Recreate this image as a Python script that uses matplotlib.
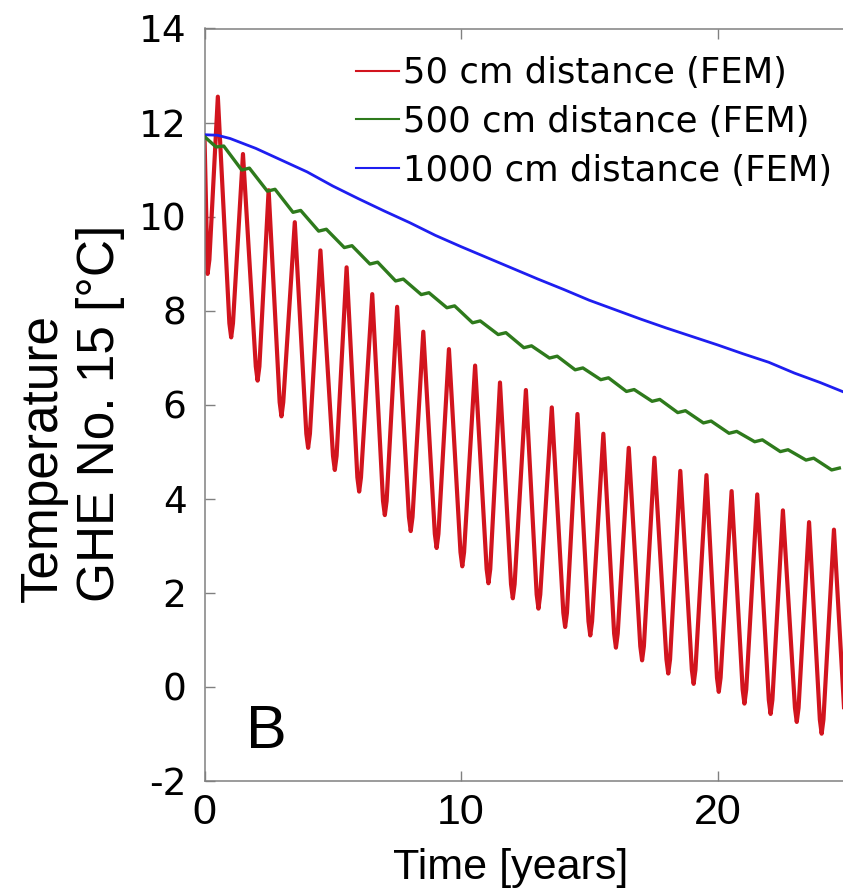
import matplotlib
matplotlib.use("Agg")
import matplotlib.pyplot as plt
from matplotlib.lines import Line2D
import numpy as np

plt.rcParams["axes.unicode_minus"] = False

# ---- data ----
red_start = (0.0, 11.70)
red_trough_t = [0.12, 1.04, 2.07, 3.00, 4.04, 5.08, 6.03, 7.03, 8.04, 9.05, 10.05, 11.07, 12.02,
                13.02, 14.06, 15.04, 16.04, 17.06, 18.08, 19.07, 20.05, 21.05, 22.07, 23.09, 24.06, 25.05]
red_trough_v = [8.78, 7.43, 6.51, 5.75, 5.08, 4.61, 4.15, 3.65, 3.31, 2.95, 2.56, 2.20, 1.88,
                1.66, 1.27, 1.09, 0.83, 0.56, 0.28, 0.06, -0.11, -0.36, -0.58, -0.75, -1.00, -1.20]
red_peak_t = [0.52, 1.50, 2.50, 3.52, 4.52, 5.54, 6.54, 7.51, 8.53, 9.53, 10.55, 11.52, 12.53,
              13.54, 14.54, 15.55, 16.54, 17.54, 18.55, 19.57, 20.55, 21.55, 22.55, 23.57, 24.54]
red_peak_v = [12.55, 11.33, 10.56, 9.88, 9.28, 8.92, 8.35, 8.08, 7.55, 7.18, 6.83, 6.47, 6.31,
              5.94, 5.80, 5.38, 5.08, 4.87, 4.59, 4.50, 4.16, 4.09, 3.75, 3.50, 3.34]
# rounded bottom of each trough (half-width in years, rise in degC)
trough_round_dt = 0.07
trough_round_dv = 0.30

green_start = (0.0, 11.70)
green_min_t = [0.45, 1.45, 2.45, 3.45, 4.45, 5.45, 6.45, 7.45, 8.45, 9.45, 10.45, 11.45, 12.45,
               13.45, 14.45, 15.45, 16.45, 17.45, 18.45, 19.45, 20.45, 21.45, 22.45, 23.45, 24.45]
green_min_v = [11.48, 10.99, 10.54, 10.09, 9.69, 9.34, 8.99, 8.63, 8.34, 8.06, 7.74, 7.49, 7.21,
               6.99, 6.74, 6.53, 6.28, 6.07, 5.83, 5.61, 5.39, 5.21, 5.00, 4.82, 4.61]
green_max_t = [0.75, 1.75, 2.75, 3.75, 4.75, 5.75, 6.75, 7.75, 8.75, 9.75, 10.75, 11.75, 12.75,
               13.75, 14.75, 15.75, 16.75, 17.75, 18.75, 19.75, 20.75, 21.75, 22.75, 23.75, 24.75]
green_max_v = [11.50, 11.03, 10.58, 10.13, 9.73, 9.38, 9.03, 8.67, 8.38, 8.10, 7.78, 7.53, 7.25,
               7.03, 6.78, 6.57, 6.32, 6.11, 5.87, 5.65, 5.43, 5.25, 5.04, 4.86, 4.65]

blue_t = [0, 0.5, 1, 2, 3, 4, 5, 6, 7, 8, 9, 10, 11, 12, 13, 14, 15, 16, 17, 18, 19, 20,
          21, 22, 23, 24, 25]
blue_v = [11.74, 11.73, 11.66, 11.45, 11.20, 10.95, 10.65, 10.38, 10.12, 9.87, 9.60, 9.36, 9.13,
          8.90, 8.67, 8.45, 8.22, 8.02, 7.82, 7.63, 7.45, 7.27, 7.08, 6.90, 6.67, 6.47, 6.25]

labels = ["50 cm distance (FEM)", "500 cm distance (FEM)", "1000 cm distance (FEM)"]
x_ticks = [0, 10, 20]
y_ticks = [-2, 0, 2, 4, 6, 8, 10, 12, 14]

# ---- assemble series ----
red_t = [red_start[0]]
red_v = [red_start[1]]
for i in range(len(red_trough_t)):
    tt, tv = red_trough_t[i], red_trough_v[i]
    if i > 0:
        red_t.append(tt - trough_round_dt); red_v.append(tv + trough_round_dv)
    red_t.append(tt); red_v.append(tv)
    red_t.append(tt + trough_round_dt); red_v.append(tv + trough_round_dv)
    if i < len(red_peak_t):
        red_t.append(red_peak_t[i]); red_v.append(red_peak_v[i])

green_t = [green_start[0]]
green_v = [green_start[1]]
for i in range(len(green_min_t)):
    green_t += [green_min_t[i], green_max_t[i]]
    green_v += [green_min_v[i], green_max_v[i]]

RED = "#d2141e"
GREEN = "#2e7a1c"
BLUE = "#1e1ef0"
SPINE = "#808080"

W, H = 843, 894
fig = plt.figure(figsize=(W / 100, H / 100), dpi=100)
x0px, x_per = 204.5, 25.65
ytop, ybot = 28.5, 780.7
ax = fig.add_axes([x0px / W, 1 - ybot / H, 30 * x_per / W, (ybot - ytop) / H])
ax.set_xlim(0, 30)
ax.set_ylim(-2, 14)

ax.plot(blue_t, blue_v, color=BLUE, lw=2.0, solid_joinstyle="round", zorder=3)
ax.plot(green_t, green_v, color=GREEN, lw=2.4, solid_joinstyle="round", zorder=3)
ax.plot(red_t, red_v, color=RED, lw=3.0, solid_joinstyle="round", zorder=2)

for s in ax.spines.values():
    s.set_color(SPINE)
    s.set_linewidth(1.1)

ax.set_xticks(x_ticks)
ax.set_yticks(y_ticks)
ax.tick_params(axis="both", direction="in", length=7, width=1, color=SPINE, top=True, right=True)
ax.tick_params(axis="y", pad=13)
ax.tick_params(axis="x", pad=9)
for lab in ax.get_yticklabels():
    lab.set_fontfamily("DejaVu Sans")
    lab.set_fontsize(27)
for lab in ax.get_xticklabels():
    lab.set_fontfamily("Liberation Sans")
    lab.set_fontsize(31)

ax.text(1.6, -1.30, "B", fontsize=44, family="Liberation Sans", ha="left", va="baseline")

handles = [Line2D([], [], color=c, lw=1.5) for c in (RED, GREEN, BLUE)]
leg = ax.legend(handles, labels, loc="upper left", bbox_to_anchor=(356 / W, 1 - 56 / H),
                bbox_transform=fig.transFigure, frameon=False, borderpad=0, borderaxespad=0,
                handlelength=1.2, handletextpad=0.12, labelspacing=0.42,
                prop={"family": "DejaVu Sans", "size": 25.5})

fig.text(72 / W, 1 - 413 / H, "Temperature\nGHE No. 15 [°C]", rotation=90, ha="center",
         va="center", multialignment="left", fontsize=37, family="Liberation Sans",
         linespacing=1.2)
fig.text(511 / W, 1 - 868 / H, "Time [years]", ha="center", va="center", fontsize=31,
         family="Liberation Sans")

fig.savefig("out.png", dpi=100)
